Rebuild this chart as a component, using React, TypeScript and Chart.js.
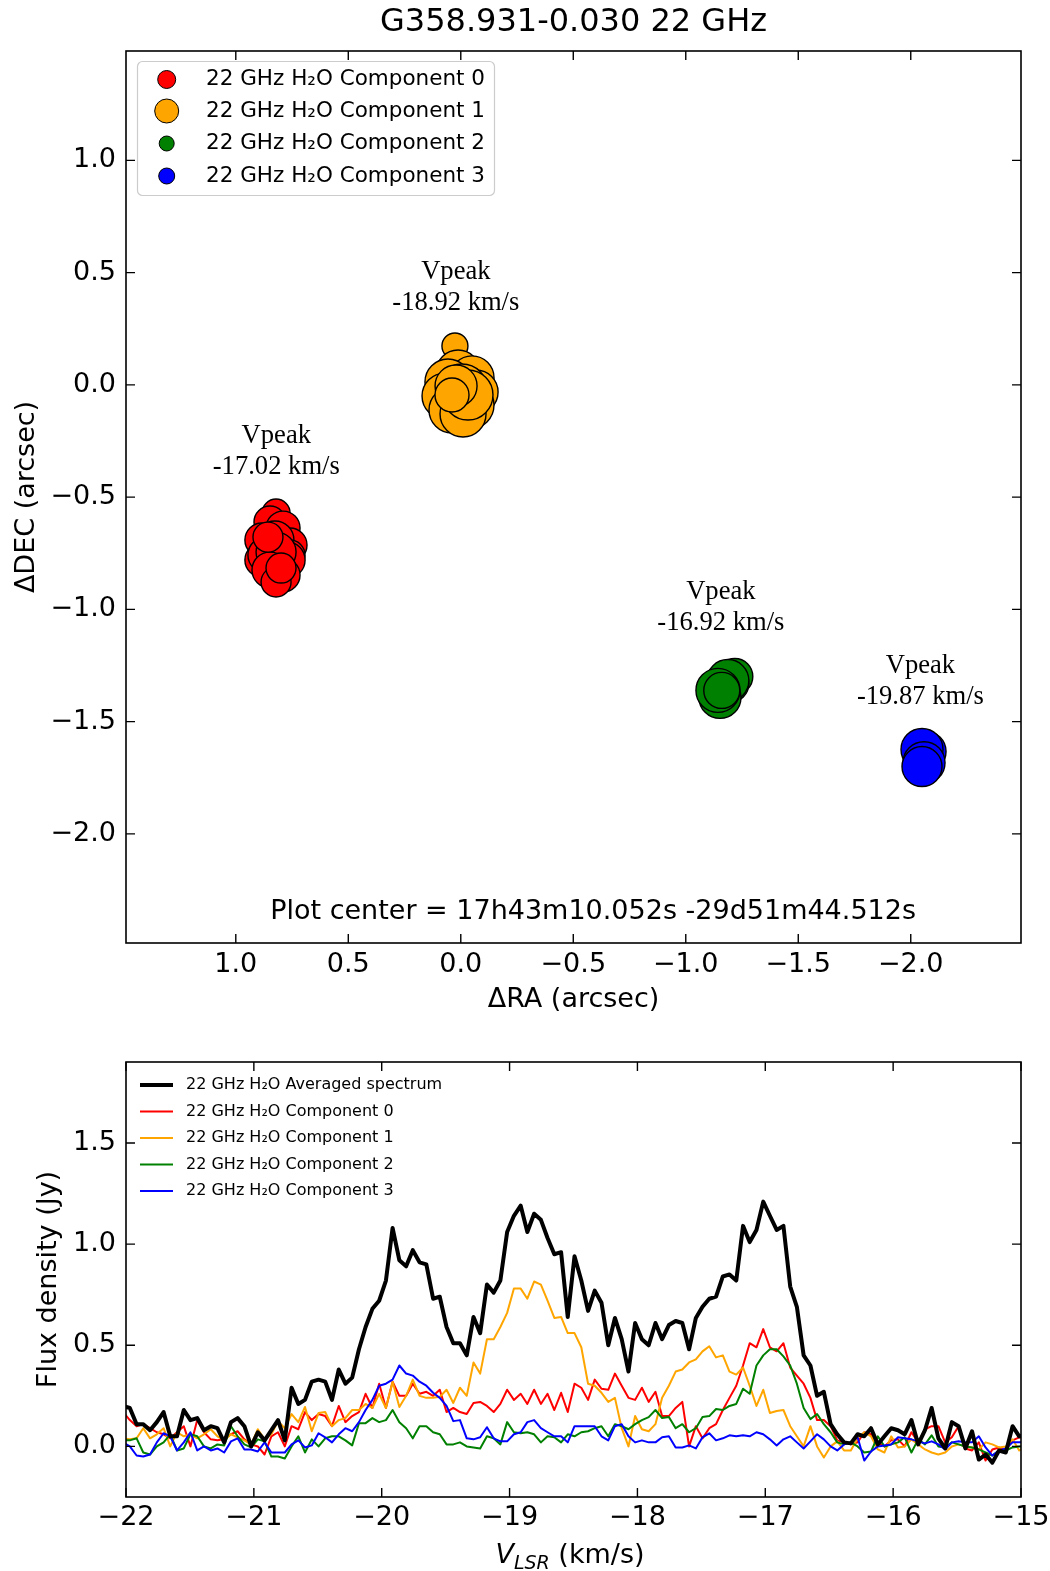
import React, { useEffect, useRef } from 'react';
import { Chart, registerables } from 'chart.js';

Chart.register(...registerables);

const SANS = '"DejaVu Sans", Verdana, sans-serif';
const SERIF = '"Liberation Serif", "Times New Roman", serif';

// ================= Top panel (positions) =================
const TITLE = 'G358.931-0.030 22 GHz';
const COMPONENT_LABELS = [
  '22 GHz H\u2082O Component 0',
  '22 GHz H\u2082O Component 1',
  '22 GHz H\u2082O Component 2',
  '22 GHz H\u2082O Component 3',
];

// Component 0 (red)
const C0_RA = [0.821, 0.848, 0.790, 0.884, 0.759, 0.826, 0.884, 0.759, 0.866, 0.772, 0.821, 0.848, 0.790, 0.821, 0.857, 0.799];
const C0_DEC = [-0.571, -0.611, -0.638, -0.691, -0.713, -0.691, -0.780, -0.758, -0.758, -0.780, -0.745, -0.825, -0.847, -0.878, -0.678, -0.816];
const C0_R = [14, 16, 17, 17, 17, 19, 17, 15, 18, 18, 20, 18, 17, 15, 15, 15];

// Component 1 (orange)
const C1_RA = [0.026, 0.012, -0.050, 0.057, -0.068, 0.070, -0.005, -0.041, 0.039, -0.010, -0.032, 0.021, 0.039];
const C1_DEC = [0.173, 0.057, 0.031, 0.013, -0.032, -0.050, -0.023, -0.090, -0.112, -0.130, -0.045, -0.005, -0.045];
const C1_R = [13, 22, 22, 23, 22, 23, 26, 24, 23, 23, 25, 21, 17];

// Component 2 (green)
const C2_RA = [-1.218, -1.196, -1.187, -1.152, -1.143, -1.160];
const C2_DEC = [-1.299, -1.330, -1.317, -1.392, -1.361, -1.361];
const C2_R = [18, 19, 21, 21, 22, 18];

// Component 3 (blue)
const C3_RA = [-2.068, -2.050, -2.059, -2.050];
const C3_DEC = [-1.633, -1.624, -1.683, -1.700];
const C3_R = [20, 21, 21, 20];

const VPEAK = [-17.02, -18.92, -16.92, -19.87];
const VPEAK_RA = [0.820, 0.022, -1.156, -2.043];
const VPEAK_DEC = [-0.297, 0.432, -0.993, -1.323];

const PLOT_CENTER = '17h43m10.052s -29d51m44.512s';
const PLOT_CENTER_RA = -0.588;
const PLOT_CENTER_DEC = -2.347;

const RA_TICKS = [-2.0, -1.5, -1.0, -0.5, 0.0, 0.5, 1.0];
const DEC_TICKS = [-2.0, -1.5, -1.0, -0.5, 0.0, 0.5, 1.0];
const RA_MIN = -2.49;
const RA_MAX = 1.488;
const DEC_MIN = -2.486;
const DEC_MAX = 1.487;

// ================= Bottom panel (spectra) =================
const SPECTRUM_LABELS = [
  '22 GHz H\u2082O Averaged spectrum',
  '22 GHz H\u2082O Component 0',
  '22 GHz H\u2082O Component 1',
  '22 GHz H\u2082O Component 2',
  '22 GHz H\u2082O Component 3',
];

const VELOCITY = [
  -22.023, -21.970, -21.917, -21.865, -21.812, -21.759, -21.706, -21.654, -21.601, -21.548,
  -21.496, -21.443, -21.390, -21.337, -21.285, -21.232, -21.179, -21.127, -21.074, -21.021,
  -20.969, -20.916, -20.863, -20.811, -20.758, -20.705, -20.652, -20.600, -20.547, -20.494,
  -20.442, -20.389, -20.336, -20.284, -20.231, -20.178, -20.126, -20.073, -20.020, -19.967,
  -19.915, -19.862, -19.809, -19.757, -19.704, -19.651, -19.598, -19.546, -19.493, -19.440,
  -19.388, -19.335, -19.282, -19.230, -19.177, -19.124, -19.072, -19.019, -18.966, -18.913,
  -18.861, -18.808, -18.755, -18.703, -18.650, -18.597, -18.545, -18.492, -18.439, -18.386,
  -18.334, -18.281, -18.228, -18.176, -18.123, -18.070, -18.018, -17.965, -17.912, -17.859,
  -17.807, -17.754, -17.701, -17.649, -17.596, -17.543, -17.491, -17.438, -17.385, -17.332,
  -17.280, -17.227, -17.174, -17.122, -17.069, -17.016, -16.964, -16.911, -16.858, -16.805,
  -16.753, -16.700, -16.647, -16.595, -16.542, -16.489, -16.437, -16.384, -16.331, -16.278,
  -16.226, -16.173, -16.120, -16.068, -16.015, -15.962, -15.910, -15.857, -15.804, -15.751,
  -15.699, -15.646, -15.593, -15.541, -15.488, -15.435, -15.383, -15.330, -15.277, -15.224,
  -15.172, -15.119, -15.066, -15.014, -14.961,
];

const FLUX_AVERAGED = [
  0.20, 0.19, 0.11, 0.11, 0.08, 0.12, 0.17, 0.05, 0.05, 0.18,
  0.13, 0.14, 0.08, 0.10, 0.09, 0.02, 0.12, 0.14, 0.10, 0.00,
  0.07, 0.03, 0.08, 0.13, 0.03, 0.29, 0.21, 0.23, 0.32, 0.33,
  0.32, 0.23, 0.38, 0.31, 0.34, 0.48, 0.59, 0.68, 0.72, 0.82,
  1.08, 0.92, 0.89, 0.97, 0.91, 0.90, 0.73, 0.74, 0.59, 0.51,
  0.51, 0.45, 0.64, 0.56, 0.80, 0.76, 0.82, 1.06, 1.14, 1.19,
  1.06, 1.15, 1.12, 1.03, 0.95, 0.96, 0.64, 0.94, 0.82, 0.67,
  0.77, 0.71, 0.50, 0.635, 0.53, 0.37, 0.61, 0.53, 0.50, 0.61,
  0.53, 0.60, 0.62, 0.61, 0.48, 0.635, 0.69, 0.73, 0.74, 0.84,
  0.85, 0.82, 1.09, 1.01, 1.07, 1.21, 1.14, 1.07, 1.09, 0.79,
  0.69, 0.45, 0.40, 0.25, 0.27, 0.11, 0.06, 0.02, 0.015, 0.06,
  0.05, 0.09, 0.01, 0.05, 0.09, 0.08, 0.06, 0.13, 0.01, 0.08,
  0.19, 0.04, -0.01, 0.12, 0.10, -0.01, 0.075, -0.065, -0.04, -0.08,
  -0.02, -0.03, 0.10, 0.05, 0.06,
];

const FLUX_COMP0 = [
  0.17, 0.13, 0.10, 0.11, 0.09, 0.07, 0.06, 0.04, 0.07, 0.10,
  0.00, 0.13, 0.07, 0.035, 0.03, 0.035, 0.06, 0.075, 0.035, 0.01,
  0.00, -0.04, 0.05, 0.07, 0.00, 0.10, 0.085, 0.17, 0.13, 0.16,
  0.15, 0.10, 0.20, 0.12, 0.15, 0.17, 0.26, 0.19, 0.31, 0.19,
  0.32, 0.25, 0.25, 0.31, 0.26, 0.27, 0.25, 0.28, 0.17, 0.19,
  0.17, 0.16, 0.215, 0.22, 0.20, 0.17, 0.21, 0.28, 0.23, 0.26,
  0.21, 0.28, 0.21, 0.26, 0.18, 0.265, 0.17, 0.31, 0.29, 0.23,
  0.33, 0.285, 0.28, 0.36, 0.30, 0.24, 0.23, 0.29, 0.22, 0.27,
  0.15, 0.15, 0.19, 0.22, 0.00, 0.10, 0.04, 0.09, 0.11, 0.18,
  0.24, 0.30, 0.40, 0.51, 0.49, 0.58, 0.49, 0.47, 0.51, 0.39,
  0.35, 0.31, 0.24, 0.13, 0.13, 0.10, 0.03, 0.02, 0.01, 0.02,
  0.07, 0.06, 0.02, 0.00, 0.03, 0.035, 0.00, 0.07, 0.02, 0.085,
  0.10, 0.10, 0.02, 0.045, 0.10, -0.01, -0.02, 0.02, -0.07, -0.015,
  -0.005, -0.02, 0.03, 0.045, 0.04,
];

const FLUX_COMP1 = [
  0.04, 0.035, 0.04, 0.09, 0.04, 0.06, 0.09, 0.00, 0.07, 0.05,
  0.06, 0.04, 0.06, 0.085, 0.05, 0.03, 0.06, 0.045, 0.03, 0.01,
  0.085, 0.035, 0.06, 0.125, 0.09, 0.16, 0.12, 0.195, 0.075, 0.165,
  0.17, 0.10, 0.13, 0.14, 0.18, 0.18, 0.21, 0.19, 0.26, 0.19,
  0.32, 0.195, 0.25, 0.33, 0.25, 0.24, 0.24, 0.245, 0.28, 0.215,
  0.29, 0.25, 0.415, 0.36, 0.53, 0.53, 0.59, 0.66, 0.78, 0.78,
  0.73, 0.815, 0.80, 0.72, 0.635, 0.64, 0.56, 0.56, 0.49, 0.31,
  0.30, 0.265, 0.22, 0.24, 0.09, 0.00, 0.15, 0.085, 0.075, 0.11,
  0.24, 0.30, 0.37, 0.38, 0.415, 0.43, 0.47, 0.495, 0.44, 0.45,
  0.37, 0.355, 0.39, 0.30, 0.20, 0.28, 0.165, 0.175, 0.18, 0.10,
  0.05, 0.00, 0.10, 0.00, -0.055, 0.00, 0.025, -0.02, -0.02, 0.04,
  0.07, 0.05, -0.015, -0.03, 0.05, -0.005, 0.00, 0.035, 0.01, -0.015,
  -0.03, -0.04, -0.03, 0.00, 0.01, 0.00, -0.005, -0.015, 0.02, 0.01,
  -0.005, 0.00, 0.035, -0.02, 0.00,
];

const FLUX_COMP2 = [
  0.03, 0.03, 0.04, -0.03, -0.04, 0.00, 0.02, 0.06, -0.02, -0.01,
  0.06, 0.05, 0.00, -0.01, 0.01, 0.005, 0.10, 0.05, 0.01, -0.005,
  0.035, 0.025, -0.05, -0.05, -0.06, 0.00, 0.05, -0.03, 0.035, 0.00,
  0.04, 0.05, 0.05, 0.03, 0.005, 0.115, 0.115, 0.14, 0.12, 0.13,
  0.18, 0.12, 0.09, 0.04, 0.10, 0.10, 0.07, 0.06, 0.01, 0.01,
  0.02, 0.00, -0.005, -0.01, 0.05, 0.04, 0.01, 0.12, 0.07, 0.065,
  0.07, 0.06, 0.02, 0.05, 0.045, 0.02, 0.06, 0.05, 0.07, 0.075,
  0.09, 0.10, 0.05, 0.11, 0.10, 0.085, 0.11, 0.13, 0.145, 0.18,
  0.14, 0.145, 0.09, 0.11, 0.07, 0.09, 0.145, 0.15, 0.185, 0.18,
  0.20, 0.21, 0.285, 0.26, 0.40, 0.45, 0.48, 0.48, 0.445, 0.40,
  0.31, 0.19, 0.135, 0.16, 0.11, 0.07, 0.02, 0.01, 0.02, 0.00,
  -0.03, -0.025, 0.05, 0.00, 0.01, 0.02, 0.045, -0.03, 0.035, 0.01,
  0.055, 0.00, -0.005, 0.02, 0.01, 0.00, -0.005, -0.015, -0.03, -0.045,
  -0.02, -0.02, -0.005, 0.00, 0.00,
];

const FLUX_COMP3 = [
  0.02, 0.00, -0.045, -0.05, -0.04, 0.02, 0.065, 0.05, -0.02, 0.02,
  0.07, -0.02, 0.00, -0.02, -0.01, -0.03, 0.025, 0.04, -0.015, -0.015,
  -0.025, 0.02, -0.03, -0.03, -0.03, 0.01, 0.03, -0.005, 0.005, 0.065,
  0.045, 0.02, 0.06, 0.09, 0.075, 0.12, 0.18, 0.23, 0.30, 0.31,
  0.33, 0.40, 0.36, 0.35, 0.32, 0.30, 0.265, 0.24, 0.20, 0.125,
  0.13, 0.04, 0.035, 0.045, 0.095, 0.04, 0.025, 0.025, 0.06, 0.07,
  0.12, 0.13, 0.09, 0.07, 0.05, 0.05, 0.02, 0.10, 0.10, 0.10,
  0.10, 0.05, 0.03, 0.10, 0.11, 0.05, 0.02, 0.03, 0.02, 0.02,
  0.045, 0.05, -0.005, -0.005, 0.005, -0.01, 0.045, 0.065, 0.03, 0.04,
  0.055, 0.05, 0.055, 0.05, 0.07, 0.06, 0.035, 0.005, 0.035, 0.05,
  0.02, -0.01, 0.025, 0.06, 0.035, 0.00, -0.02, 0.01, 0.02, 0.045,
  -0.07, -0.025, 0.00, 0.005, 0.01, 0.045, 0.04, 0.035, 0.025, 0.015,
  0.025, 0.01, -0.015, 0.02, 0.025, 0.02, 0.02, 0.05, -0.005, -0.045,
  -0.02, -0.01, 0.02, 0.02, 0.02,
];

const VEL_TICKS = [-22, -21, -20, -19, -18, -17, -16, -15];
const FLUX_TICKS = [0.0, 0.5, 1.0, 1.5];
const VEL_MIN = -22;
const VEL_MAX = -15;
const FLUX_MIN = -0.25;
const FLUX_MAX = 1.9;

// ================= Styles =================
const COMPONENT_COLORS = ['#ff0000', '#ffa500', '#008000', '#0000ff'];
const LEGEND_MARKER_R = [9, 12, 7.5, 8];
const SPECTRUM_COLORS = ['#000000', '#ff0000', '#ffa500', '#008000', '#0000ff'];
const SPECTRUM_WIDTHS = [4, 2, 2, 2, 2];
const SPECTRUM_ORDER = [0, 4, 3, 2, 1];
const TICK_LEN = 9;
const LABEL_SIZE = 27;

function fmt1(v: number) {
  const s = (Math.abs(v) < 1e-9 ? 0 : v).toFixed(1);
  return s.replace('-', '\u2212');
}
function fmt0(v: number) {
  return String(Math.round(v)).replace('-', '\u2212');
}

function drawFrame(chart: any) {
  const { ctx, chartArea: a } = chart;
  const xs = chart.scales.x;
  const ys = chart.scales.y;
  ctx.save();
  ctx.strokeStyle = '#000';
  ctx.lineWidth = 1.4;
  ctx.beginPath();
  for (const t of xs.ticks) {
    const p = xs.getPixelForValue(t.value);
    ctx.moveTo(p, a.bottom);
    ctx.lineTo(p, a.bottom - TICK_LEN);
    ctx.moveTo(p, a.top);
    ctx.lineTo(p, a.top + TICK_LEN);
  }
  for (const t of ys.ticks) {
    const p = ys.getPixelForValue(t.value);
    ctx.moveTo(a.left, p);
    ctx.lineTo(a.left + TICK_LEN, p);
    ctx.moveTo(a.right, p);
    ctx.lineTo(a.right - TICK_LEN, p);
  }
  ctx.stroke();
  ctx.lineWidth = 1.6;
  ctx.strokeRect(a.left, a.top, a.right - a.left, a.bottom - a.top);
  ctx.restore();
}

function roundRectPath(ctx: any, x: number, y: number, w: number, h: number, r: number) {
  ctx.beginPath();
  ctx.moveTo(x + r, y);
  ctx.lineTo(x + w - r, y);
  ctx.arcTo(x + w, y, x + w, y + r, r);
  ctx.lineTo(x + w, y + h - r);
  ctx.arcTo(x + w, y + h, x + w - r, y + h, r);
  ctx.lineTo(x + r, y + h);
  ctx.arcTo(x, y + h, x, y + h - r, r);
  ctx.lineTo(x, y + r);
  ctx.arcTo(x, y, x + r, y, r);
  ctx.closePath();
}

const topDecor = {
  id: 'topDecor',
  afterDatasetsDraw(chart: any) {
    const { ctx, chartArea: a } = chart;
    const xs = chart.scales.x;
    const ys = chart.scales.y;
    ctx.save();
    ctx.fillStyle = '#000';
    ctx.textAlign = 'center';
    ctx.textBaseline = 'middle';

    // Vpeak annotations
    ctx.font = `26.6px ${SERIF}`;
    VPEAK.forEach((v, i) => {
      const px = xs.getPixelForValue(VPEAK_RA[i]);
      const py = ys.getPixelForValue(VPEAK_DEC[i]);
      ctx.fillText('Vpeak', px, py - 15.5);
      ctx.fillText(`${v.toFixed(2)} km/s`, px, py + 15.5);
    });

    // plot center
    ctx.font = `${LABEL_SIZE}px ${SANS}`;
    ctx.fillText(
      `Plot center = ${PLOT_CENTER}`,
      xs.getPixelForValue(PLOT_CENTER_RA),
      ys.getPixelForValue(PLOT_CENTER_DEC)
    );

    // title
    ctx.font = `32px ${SANS}`;
    ctx.fillText(TITLE, (a.left + a.right) / 2, 23);
    ctx.restore();

    drawFrame(chart);

    // legend
    ctx.save();
    roundRectPath(ctx, 137.5, 61.5, 357, 134, 5);
    ctx.fillStyle = 'rgba(255,255,255,0.8)';
    ctx.fill();
    ctx.strokeStyle = '#cccccc';
    ctx.lineWidth = 1.2;
    ctx.stroke();
    const rows = [79.5, 111, 143.5, 176];
    chart.data.datasets.forEach((ds: any, i: number) => {
      ctx.beginPath();
      ctx.arc(166.7, rows[i], LEGEND_MARKER_R[i], 0, Math.PI * 2);
      ctx.fillStyle = ds.backgroundColor;
      ctx.fill();
      ctx.strokeStyle = '#000';
      ctx.lineWidth = 1;
      ctx.stroke();
      ctx.fillStyle = '#000';
      ctx.font = `21.5px ${SANS}`;
      ctx.textAlign = 'left';
      ctx.textBaseline = 'middle';
      ctx.fillText(ds.label, 206, rows[i]);
    });
    ctx.restore();
  },
};

const bottomDecor = {
  id: 'bottomDecor',
  afterDatasetsDraw(chart: any) {
    const { ctx } = chart;
    drawFrame(chart);
    ctx.save();
    // legend (no frame)
    chart.data.datasets.forEach((ds: any, i: number) => {
      const y = 55 + i * 26.5;
      ctx.beginPath();
      ctx.moveTo(140, y);
      ctx.lineTo(173, y);
      ctx.strokeStyle = ds.borderColor;
      ctx.lineWidth = ds.borderWidth;
      ctx.stroke();
      ctx.fillStyle = '#000';
      ctx.font = `16px ${SANS}`;
      ctx.textAlign = 'left';
      ctx.textBaseline = 'middle';
      ctx.fillText(ds.label, 186, y);
    });

    // x axis label: V_LSR (km/s)
    const base = 533;
    const cx = 570;
    ctx.textAlign = 'left';
    ctx.textBaseline = 'alphabetic';
    ctx.font = `italic ${LABEL_SIZE}px ${SANS}`;
    const wV = ctx.measureText('V').width;
    ctx.font = `italic 19px ${SANS}`;
    const wS = ctx.measureText('LSR').width;
    ctx.font = `${LABEL_SIZE}px ${SANS}`;
    const wR = ctx.measureText(' (km/s)').width;
    const x0 = cx - (wV + wS + wR) / 2;
    ctx.fillStyle = '#000';
    ctx.font = `italic ${LABEL_SIZE}px ${SANS}`;
    ctx.fillText('V', x0, base);
    ctx.font = `italic 19px ${SANS}`;
    ctx.fillText('LSR', x0 + wV, base + 6);
    ctx.font = `${LABEL_SIZE}px ${SANS}`;
    ctx.fillText(' (km/s)', x0 + wV + wS, base);
    ctx.restore();
  },
};

const tickFont = { family: SANS, size: LABEL_SIZE };

export default function App() {
  const topRef = useRef<HTMLCanvasElement>(null);
  const botRef = useRef<HTMLCanvasElement>(null);

  useEffect(() => {
    Chart.defaults.font.family = SANS;
    const comps = [
      { ra: C0_RA, dec: C0_DEC, r: C0_R },
      { ra: C1_RA, dec: C1_DEC, r: C1_R },
      { ra: C2_RA, dec: C2_DEC, r: C2_R },
      { ra: C3_RA, dec: C3_DEC, r: C3_R },
    ];
    const top = new Chart(topRef.current as any, {
      type: 'bubble',
      data: {
        datasets: comps.map((c, i) => ({
          label: COMPONENT_LABELS[i],
          data: c.ra.map((x, j) => ({ x, y: c.dec[j], r: c.r[j] })),
          backgroundColor: COMPONENT_COLORS[i],
          borderColor: '#000',
          borderWidth: 1.4,
        })),
      },
      options: {
        responsive: false,
        animation: false,
        devicePixelRatio: 1,
        events: [],
        layout: { padding: { left: 0, right: 29, top: 51, bottom: 0 } },
        plugins: { legend: { display: false }, tooltip: { enabled: false }, title: { display: false } },
        scales: {
          x: {
            type: 'linear',
            position: 'bottom',
            reverse: true,
            min: RA_MIN,
            max: RA_MAX,
            bounds: 'data',
            afterBuildTicks: (s: any) => { s.ticks = RA_TICKS.map((v) => ({ value: v })); },
            afterFit: (s: any) => { s.height = 87; s.paddingLeft = 0; s.paddingRight = 0; },
            grid: { display: false, drawTicks: false },
            border: { display: false },
            ticks: {
              autoSkip: false, maxRotation: 0, minRotation: 0, padding: 5.5, color: '#000', font: tickFont,
              callback: (v: any) => fmt1(Number(v)),
            },
            title: {
              display: true, text: '\u0394RA (arcsec)', color: '#000', font: tickFont,
              padding: { top: 0, bottom: 13.4 },
            },
          },
          y: {
            type: 'linear',
            position: 'left',
            min: DEC_MIN,
            max: DEC_MAX,
            bounds: 'data',
            afterBuildTicks: (s: any) => { s.ticks = DEC_TICKS.map((v) => ({ value: v })); },
            afterFit: (s: any) => { s.width = 126; s.paddingTop = 0; s.paddingBottom = 0; },
            grid: { display: false, drawTicks: false },
            border: { display: false },
            ticks: {
              autoSkip: false, padding: 10, color: '#000', font: tickFont,
              callback: (v: any) => fmt1(Number(v)),
            },
            title: {
              display: true, text: '\u0394DEC (arcsec)', color: '#000', font: tickFont,
              padding: { top: 10.4, bottom: 0 },
            },
          },
        },
      } as any,
      plugins: [topDecor],
    } as any);

    const spectra = [FLUX_AVERAGED, FLUX_COMP0, FLUX_COMP1, FLUX_COMP2, FLUX_COMP3];
    const bot = new Chart(botRef.current as any, {
      type: 'line',
      data: {
        datasets: spectra.map((vals, i) => ({
          label: SPECTRUM_LABELS[i],
          data: VELOCITY.map((v, j) => ({ x: v, y: vals[j] })),
          borderColor: SPECTRUM_COLORS[i],
          borderWidth: SPECTRUM_WIDTHS[i],
          pointRadius: 0,
          fill: false,
          tension: 0,
          borderJoinStyle: 'round',
          order: SPECTRUM_ORDER[i],
        })),
      },
      options: {
        responsive: false,
        animation: false,
        devicePixelRatio: 1,
        events: [],
        layout: { padding: { left: 0, right: 29, top: 32, bottom: 0 } },
        plugins: { legend: { display: false }, tooltip: { enabled: false }, title: { display: false } },
        scales: {
          x: {
            type: 'linear',
            position: 'bottom',
            min: VEL_MIN,
            max: VEL_MAX,
            bounds: 'data',
            afterBuildTicks: (s: any) => { s.ticks = VEL_TICKS.map((v) => ({ value: v })); },
            afterFit: (s: any) => { s.height = 74; s.paddingLeft = 0; s.paddingRight = 0; },
            grid: { display: false, drawTicks: false },
            border: { display: false },
            ticks: {
              autoSkip: false, maxRotation: 0, minRotation: 0, padding: 4.5, color: '#000', font: tickFont,
              callback: (v: any) => fmt0(Number(v)),
            },
          },
          y: {
            type: 'linear',
            position: 'left',
            min: FLUX_MIN,
            max: FLUX_MAX,
            bounds: 'data',
            afterBuildTicks: (s: any) => { s.ticks = FLUX_TICKS.map((v) => ({ value: v })); },
            afterFit: (s: any) => { s.width = 126; s.paddingTop = 0; s.paddingBottom = 0; },
            grid: { display: false, drawTicks: false },
            border: { display: false },
            ticks: {
              autoSkip: false, padding: 10, color: '#000', font: tickFont,
              callback: (v: any) => fmt1(Number(v)),
            },
            title: {
              display: true, text: 'Flux density (Jy)', color: '#000', font: tickFont,
              padding: { top: 32.4, bottom: 0 },
            },
          },
        },
      } as any,
      plugins: [bottomDecor],
    } as any);

    return () => {
      top.destroy();
      bot.destroy();
    };
  }, []);

  return (
    <div style={{ position: 'absolute', left: 0, top: 0, width: 1050, height: 1571, background: '#ffffff' }}>
      <canvas
        ref={topRef}
        width={1050}
        height={1030}
        style={{ position: 'absolute', left: 0, top: 0, width: 1050, height: 1030 }}
      />
      <canvas
        ref={botRef}
        width={1050}
        height={541}
        style={{ position: 'absolute', left: 0, top: 1030, width: 1050, height: 541 }}
      />
    </div>
  );
}
